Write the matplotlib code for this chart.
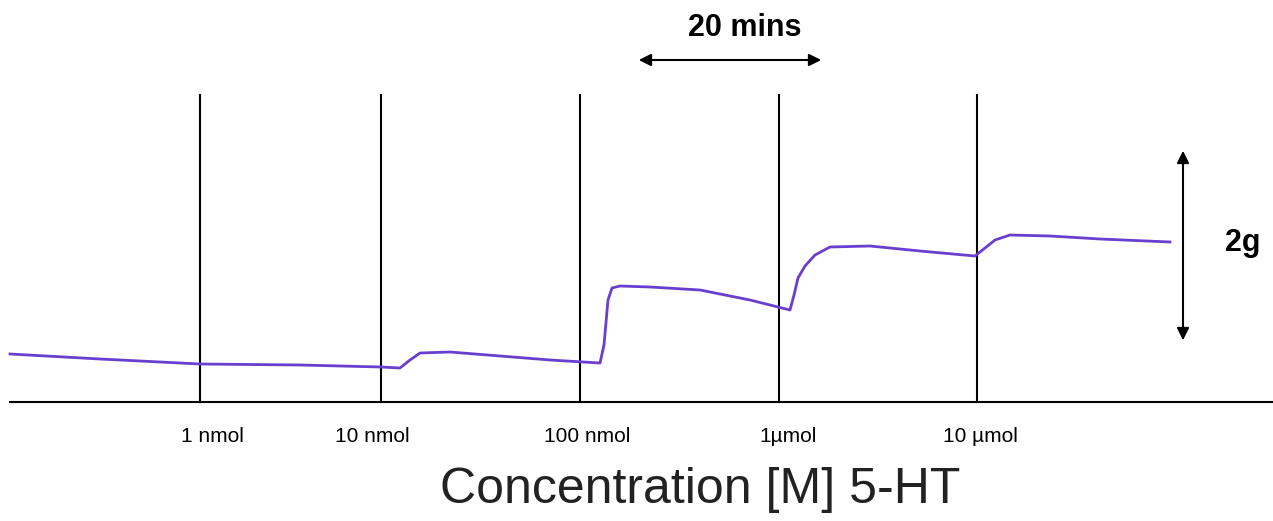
import matplotlib
matplotlib.use("Agg")
import matplotlib.pyplot as plt

plt.rcParams['font.family'] = ['Liberation Sans', 'DejaVu Sans']

# trace (x, y in image pixel units, y downwards)
trace_x = [10, 100, 200, 300, 381, 400, 410, 420, 450, 500, 550, 600, 604, 608, 612, 620,
           650, 700, 750, 790, 794, 798, 805, 815, 830, 870, 920, 975, 985, 995, 1010,
           1050, 1100, 1170]
trace_y = [354, 359, 364, 365, 367, 368, 360, 353, 352, 356, 360, 363, 345, 300, 288, 286,
           287, 290, 300, 310, 295, 278, 266, 255, 247, 246, 251, 256, 248, 240, 235,
           236, 239, 242]

marker_x = [200, 381, 580, 779, 977]
dose_labels = ["1 nmol", "10 nmol", "100 nmol", "1µmol", "10 µmol"]
label_x = [212, 372, 587, 788, 980]

fig = plt.figure(figsize=(12.73, 5.21), dpi=100)
ax = fig.add_axes([0, 0, 1, 1])
ax.set_xlim(0, 1273)
ax.set_ylim(521, 0)
ax.axis('off')

ax.plot([10, 1273], [402, 402], color='black', lw=1.5)
for x in marker_x:
    ax.plot([x, x], [95, 402], color='black', lw=1.5)
ax.plot(trace_x, trace_y, color='#6a3fd0', lw=2)

for x, s in zip(label_x, dose_labels):
    ax.text(x, 436, s, ha='center', va='center', fontsize=15)

ax.annotate('', xy=(636, 60), xytext=(824, 60),
            arrowprops=dict(arrowstyle='<|-|>', color='black', lw=1.5, mutation_scale=18))
ax.text(745, 28, '20 mins', ha='center', va='center', fontsize=22, fontweight='bold')
ax.annotate('', xy=(1183, 148), xytext=(1183, 343),
            arrowprops=dict(arrowstyle='<|-|>', color='black', lw=1.5, mutation_scale=18))
ax.text(1243, 243, '2g', ha='center', va='center', fontsize=22, fontweight='bold')
ax.text(700, 490, 'Concentration [M] 5-HT', ha='center', va='center', fontsize=36,
        color='#222222')

fig.savefig('out.png', dpi=100)
